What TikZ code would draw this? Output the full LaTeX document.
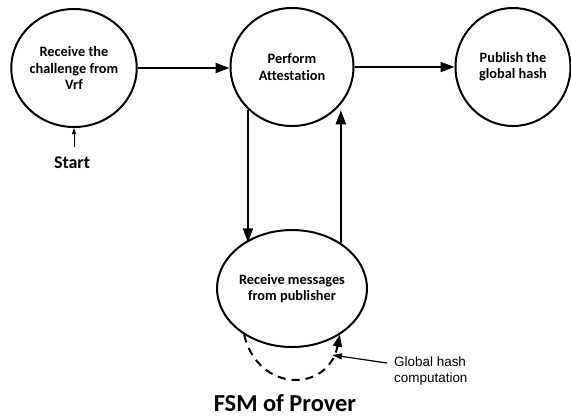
\documentclass[tikz,border=0pt]{standalone}
\usepackage{fontspec}
\setmainfont{Carlito}[Ligatures=NoCommon]
\newfontfamily\arialfont{Liberation Sans}
\usetikzlibrary{arrows.meta,shapes.geometric}

\tikzset{
  state/.style={draw, ellipse, line width=2bp, minimum width=123bp, minimum height=118bp,
    inner sep=0pt, align=center, font=\fontsize{14.4}{16.4}\selectfont\bfseries},
  flow/.style={line width=2bp, -{Triangle[length=14bp,width=10bp]}},
  loopflow/.style={line width=2bp, dash pattern=on 8bp off 6bp, -{Triangle[length=12bp,width=9bp]}},
  thinarrow/.style={line width=1bp, -{Triangle[length=6bp,width=4bp]}},
  notearrow/.style={line width=1.2bp, -{Triangle[length=10bp,width=6bp]}},
}

\begin{document}
\begin{tikzpicture}[x=1bp,y=-1bp]
  \useasboundingbox (0,0) rectangle (571,419);

  % states of the prover
  \node[state] (recv)    at (74,68)    {Receive the\\challenge from\\Vrf};
  \node[state] (attest)  at (292,67)   {Perform\\Attestation};
  \node[state, minimum width=115bp] (publish) at (513,67) {Publish the\\global hash};
  \node[state, minimum height=117bp] (msgs) at (292,288.5) {Receive messages\\from publisher};

  % entry point
  \node[inner sep=0pt, anchor=base, font=\fontsize{18}{20}\selectfont\bfseries] (start) at (72,168) {Start};
  \draw[thinarrow, shorten <=9bp] (start.north -| recv.south) -- (recv.south);

  % transitions
  \draw[flow] (recv.east) -- (recv.east -| attest.west);
  \draw[flow] (attest.east) -- (attest.east -| publish.west);
  \draw[flow] (attest.224.5) -- (attest.224.5 |- msgs.136);
  \draw[flow] (msgs.43.5) -- (msgs.43.5 |- attest.315.5);

  % self loop on the message state
  \draw[loopflow] (msgs.224.3) .. controls (258,393) and (328,393) .. (msgs.316);

  % annotation of the self loop
  \node[inner sep=0pt, anchor=west, align=left, font=\arialfont\fontsize{13.5}{17}\selectfont] (note) at (394,371) {Global hash\\computation};
  \coordinate (notetip) at (332,355);
  \draw[notearrow] (note.west) ++(-7,-8) coordinate (notetail) (notetail) -- (notetip);

  % caption
  \node[inner sep=0pt, anchor=base, font=\fontsize{24.5}{27}\selectfont\bfseries] (caption) at (285,411) {FSM of Prover};
\end{tikzpicture}
\end{document}
